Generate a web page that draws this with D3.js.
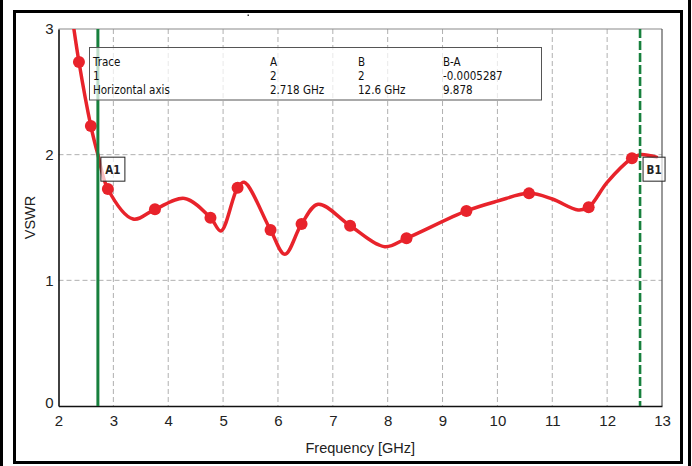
<!DOCTYPE html>
<html>
<head>
<meta charset="utf-8">
<script src="https://cdn.jsdelivr.net/npm/d3@7"></script>
<style>
  html, body { margin: 0; padding: 0; background: #fff; }
  svg { display: block; }
</style>
</head>
<body>
<svg id="chart" width="692" height="466"></svg>
<script>
// Measured VSWR trace (smooth curve samples)
const curveFreq = [2.20, 2.373, 2.59, 2.718, 2.90, 3.36, 3.758, 4.30, 4.77, 4.96, 5.264, 5.384, 5.865, 6.126, 6.43, 6.733, 7.315, 7.947, 8.343, 9.435, 10.0, 10.576, 11.0, 11.47, 11.663, 12.0, 12.452, 12.6, 12.9];
const curveVswr = [3.25, 2.737, 2.228, 2.0, 1.727, 1.488, 1.565, 1.652, 1.498, 1.393, 1.737, 1.78, 1.40, 1.207, 1.448, 1.605, 1.435, 1.268, 1.334, 1.552, 1.63, 1.692, 1.647, 1.56, 1.581, 1.78, 1.971, 2.0, 1.98];

// Symbol markers on the trace
const markerFreq = [2.373, 2.59, 2.90, 3.758, 4.77, 5.264, 5.865, 6.43, 7.315, 8.343, 9.435, 10.576, 11.663, 12.452];
const markerVswr = [2.737, 2.228, 1.727, 1.565, 1.498, 1.737, 1.40, 1.448, 1.435, 1.334, 1.552, 1.692, 1.581, 1.971];

// Axis ticks
const xTicks = [2, 3, 4, 5, 6, 7, 8, 9, 10, 11, 12, 13];
const yTicks = [0, 1, 2, 3];

// Cursor markers
const cursorNames = ["A1", "B1"];
const cursorFreq = [2.718, 12.6];

// Marker readout table
const tableHeader = ["Trace", "A", "B", "B-A"];
const tableRow1 = ["1", "2", "2", "-0.0005287"];
const tableRow2 = ["Horizontal axis", "2.718 GHz", "12.6 GHz", "9.878"];

const svg = d3.select("#chart");
const W = 692, H = 466;
const plot = { left: 58.5, right: 662, top: 29, bottom: 406 };

const x = d3.scaleLinear().domain([2, 13]).range([plot.left, plot.right]);
const y = d3.scaleLinear().domain([0, 3]).range([plot.bottom, plot.top]);

const RED = "#e8232b";
const GREEN = "#17803d";
const FONT = "'Liberation Sans', Arial, sans-serif";
const TFONT = "'DejaVu Sans Condensed', 'DejaVu Sans', sans-serif";

// Page frames
svg.append("rect").attr("x", 0).attr("y", 0).attr("width", W).attr("height", H).attr("fill", "#fff");
svg.append("line").attr("x1", 1.5).attr("x2", 1.5).attr("y1", 0).attr("y2", H)
  .attr("stroke", "#000").attr("stroke-width", 3);
svg.append("line").attr("x1", 689.5).attr("x2", 689.5).attr("y1", 0).attr("y2", H)
  .attr("stroke", "#000").attr("stroke-width", 3);
svg.append("rect").attr("x", 14.5).attr("y", 11.5).attr("width", 667).attr("height", 451)
  .attr("fill", "none").attr("stroke", "#000").attr("stroke-width", 3);
svg.append("rect").attr("x", 247.5).attr("y", 14.5).attr("width", 1.5).attr("height", 1.5).attr("fill", "#333");

// Grid
const grid = svg.append("g");
grid.selectAll("line.vx").data(xTicks.filter(d => d > 2 && d < 13)).enter().append("line")
  .attr("x1", d => x(d)).attr("x2", d => x(d)).attr("y1", plot.top).attr("y2", plot.bottom)
  .attr("stroke", "#b0b0b0").attr("stroke-width", 1).attr("stroke-dasharray", "5,3");
grid.selectAll("line.hy").data(yTicks.filter(d => d > 0 && d < 3)).enter().append("line")
  .attr("x1", plot.left).attr("x2", plot.right).attr("y1", d => y(d)).attr("y2", d => y(d))
  .attr("stroke", "#b0b0b0").attr("stroke-width", 1).attr("stroke-dasharray", "5,3");

// Plot frame
svg.append("line").attr("x1", plot.left).attr("x2", plot.right).attr("y1", plot.top).attr("y2", plot.top)
  .attr("stroke", "#8a8a8a").attr("stroke-width", 1.2);
svg.append("line").attr("x1", plot.right).attr("x2", plot.right).attr("y1", plot.top).attr("y2", plot.bottom)
  .attr("stroke", "#555").attr("stroke-width", 1.2);

// Axes
const xAxis = d3.axisBottom(x).tickValues(xTicks).tickSize(0).tickPadding(9).tickFormat(d3.format("d"));
const yAxis = d3.axisLeft(y).tickValues(yTicks).tickSize(0).tickPadding(5).tickFormat(d3.format("d"));
const gx = svg.append("g").attr("transform", `translate(0,${plot.bottom})`).call(xAxis);
const gy = svg.append("g").attr("transform", `translate(${plot.left},0)`).call(yAxis);
[gx, gy].forEach(g => {
  g.select(".domain").attr("stroke", "#111").attr("stroke-width", 1.6);
  g.selectAll("text").attr("font-family", FONT).attr("font-size", 15).attr("fill", "#222");
});
gy.selectAll(".tick").filter(d => d === 0).select("text").attr("dy", "0.1em");

// Axis titles
svg.append("text").attr("x", (plot.left + plot.right) / 2).attr("y", 452.5)
  .attr("text-anchor", "middle").attr("font-family", FONT).attr("font-size", 14.5).attr("fill", "#222")
  .text("Frequency [GHz]");
svg.append("text").attr("transform", `translate(35,${(plot.top + plot.bottom) / 2}) rotate(-90)`)
  .attr("text-anchor", "middle").attr("font-family", FONT).attr("font-size", 14.5).attr("fill", "#222")
  .text("VSWR");

// Trace
const clipId = "plotclip";
svg.append("clipPath").attr("id", clipId).append("rect")
  .attr("x", plot.left).attr("y", plot.top).attr("width", plot.right - plot.left).attr("height", plot.bottom - plot.top);
const traceG = svg.append("g").attr("clip-path", `url(#${clipId})`);
const line = d3.line().x(d => x(d[0])).y(d => y(d[1])).curve(d3.curveCatmullRom.alpha(0.5));
traceG.append("path").datum(curveFreq.map((f, i) => [f, curveVswr[i]]))
  .attr("d", line).attr("fill", "none").attr("stroke", RED).attr("stroke-width", 3.5)
  .attr("stroke-linejoin", "round").attr("stroke-linecap", "round");
traceG.selectAll("circle").data(markerFreq.map((f, i) => [f, markerVswr[i]])).enter().append("circle")
  .attr("cx", d => x(d[0])).attr("cy", d => y(d[1])).attr("r", 6).attr("fill", RED);

// Cursor lines
svg.append("line").attr("x1", x(cursorFreq[0])).attr("x2", x(cursorFreq[0]))
  .attr("y1", plot.top).attr("y2", plot.bottom).attr("stroke", GREEN).attr("stroke-width", 3);
svg.append("line").attr("x1", x(cursorFreq[1])).attr("x2", x(cursorFreq[1]))
  .attr("y1", plot.top).attr("y2", plot.bottom).attr("stroke", GREEN).attr("stroke-width", 2.6)
  .attr("stroke-dasharray", "9,3");

// Cursor labels
cursorNames.forEach((name, i) => {
  const cx = x(cursorFreq[i]) + 3;
  const cy = y(2) + 2.5;
  const w = name === "A1" ? 24 : 22;
  const g = svg.append("g");
  g.append("rect").attr("x", cx).attr("y", cy).attr("width", w).attr("height", 24)
    .attr("fill", "#fff").attr("fill-opacity", 0.7).attr("stroke", "#222").attr("stroke-width", 1);
  g.append("text").attr("x", cx + w / 2).attr("y", cy + 16.5).attr("text-anchor", "middle")
    .attr("font-family", TFONT).attr("font-size", 11.5).attr("font-weight", "bold").attr("fill", "#222")
    .text(name);
});

// Marker readout table
const tbl = svg.append("g");
tbl.append("rect").attr("x", 89.5).attr("y", 47.5).attr("width", 452).attr("height", 52.5)
  .attr("fill", "#fff").attr("fill-opacity", 0.72).attr("stroke", "#555").attr("stroke-width", 1);
const colX = [93, 270, 358, 443];
[tableHeader, tableRow1, tableRow2].forEach((row, r) => {
  row.forEach((t, c) => {
    tbl.append("text").attr("x", colX[c]).attr("y", 65.5 + r * 14.2)
      .attr("font-family", TFONT).attr("font-size", 11.5).attr("fill", "#111").text(t);
  });
});
</script>
</body>
</html>
